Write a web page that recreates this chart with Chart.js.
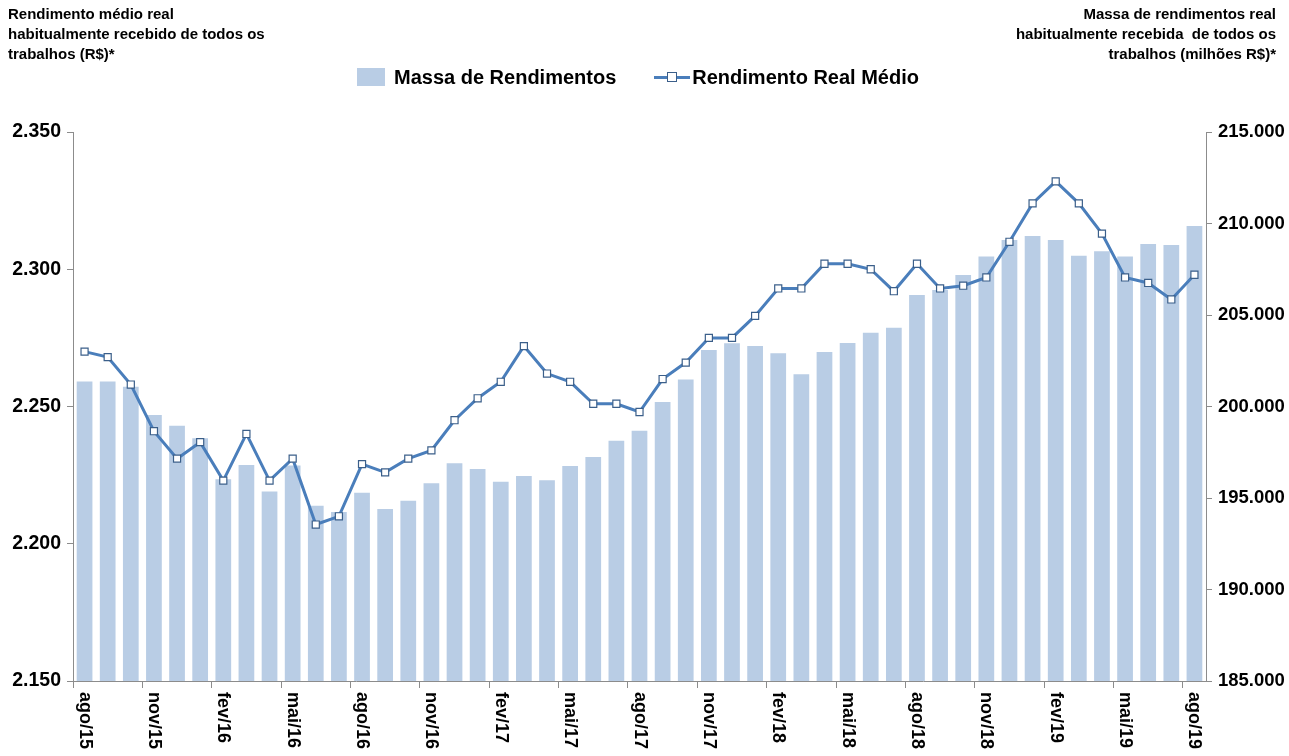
<!DOCTYPE html>
<html>
<head>
<meta charset="utf-8">
<script src="https://cdn.jsdelivr.net/npm/chart.js@4"></script>
<style>
  body { margin: 0; background: #fff; }
  #wrap { position: relative; width: 1289px; height: 756px; font-family: "Liberation Sans", Arial, sans-serif; }
  .title { position: absolute; top: 4px; font-weight: bold; font-size: 15px; line-height: 20px; color: #000; }
  #legend { position: absolute; top: 64px; left: 357px; height: 26px; display: flex; align-items: center; font-weight: bold; font-size: 20px; }
  .box { width: 28px; height: 18px; background: #B9CDE5; margin-right: 9px; }
  .lineKey { position: relative; width: 36px; height: 18px; margin-left: 38px; margin-right: 2px; }
  .lineKey .ln { position: absolute; left: 0; right: 0; top: 8px; height: 3px; background: #4A7EBB; }
  .lineKey .mk { position: absolute; left: 13px; top: 4px; width: 8px; height: 8px; background: #fff; border: 1px solid #3B5F8A; }
</style>
</head>
<body>
<div id="wrap">
  <canvas id="chart" width="1289" height="756"></canvas>
  <div class="title" style="left:8px;">Rendimento médio real<br>habitualmente recebido de todos os<br>trabalhos (R$)*</div>
  <div class="title" style="right:13px; text-align:right;">Massa de rendimentos real<br>habitualmente recebida &nbsp;de todos os<br>trabalhos (milhões R$)*</div>
  <div id="legend">
    <div class="box"></div><span>Massa de Rendimentos</span>
    <div class="lineKey"><div class="ln"></div><div class="mk"></div></div><span>Rendimento Real Médio</span>
  </div>
</div>
<script>
const months = [
  "ago/15", "set/15", "out/15", "nov/15", "dez/15", "jan/16", "fev/16", "mar/16", "abr/16", "mai/16",
  "jun/16", "jul/16", "ago/16", "set/16", "out/16", "nov/16", "dez/16", "jan/17", "fev/17", "mar/17",
  "abr/17", "mai/17", "jun/17", "jul/17", "ago/17", "set/17", "out/17", "nov/17", "dez/17", "jan/18",
  "fev/18", "mar/18", "abr/18", "mai/18", "jun/18", "jul/18", "ago/18", "set/18", "out/18", "nov/18",
  "dez/18", "jan/19", "fev/19", "mar/19", "abr/19", "mai/19", "jun/19", "jul/19", "ago/19"
];

// massa de rendimentos (milhões R$) - eixo direito
const massa = [
  201360, 201360, 201080, 199540, 198950, 198260, 196020, 196800, 195350, 196770,
  194580, 194240, 195290, 194400, 194850, 195800, 196900, 196590, 195890, 196200,
  195970, 196750, 197240, 198130, 198680, 200250, 201470, 203090, 203460, 203310,
  202910, 201760, 202980, 203470, 204030, 204310, 206090, 206370, 207190, 208190,
  209100, 209320, 209100, 208240, 208480, 208190, 208880, 208830, 209860
];

// rendimento real médio (R$) - eixo esquerdo
const rendimento = [
  2270, 2268, 2258, 2241, 2231, 2237, 2223, 2240, 2223, 2231,
  2207, 2210, 2229, 2226, 2231, 2234, 2245, 2253, 2259, 2272,
  2262, 2259, 2251, 2251, 2248, 2260, 2266, 2275, 2275, 2283,
  2293, 2293, 2302, 2302, 2300, 2292, 2302, 2293, 2294, 2297,
  2310, 2324, 2332, 2324, 2313, 2297, 2295, 2289, 2298
];

const leftTicks = [2150, 2200, 2250, 2300, 2350];
const rightTicks = [185000, 190000, 195000, 200000, 205000, 210000, 215000];

function fmt(v) {
  return String(v).replace(/\B(?=(\d{3})+(?!\d))/g, ".");
}

const axisColor = "#8C8C8C";

// x labels read top-to-bottom, every 3rd month
const xLabels = {
  id: "xLabels",
  afterDraw(chart) {
    const ctx = chart.ctx;
    const xs = chart.scales.x;
    const bottom = chart.chartArea.bottom;
    ctx.save();
    ctx.font = "bold 18px Liberation Sans";
    ctx.fillStyle = "#000";
    ctx.textAlign = "left";
    ctx.textBaseline = "middle";
    months.forEach((m, i) => {
      if (i % 3 !== 0) return;
      ctx.save();
      ctx.translate(xs.getPixelForValue(i), bottom + 11);
      ctx.rotate(Math.PI / 2);
      ctx.fillText(m, 0, 0);
      ctx.restore();
    });
    ctx.restore();
  }
};

new Chart(document.getElementById("chart"), {
  data: {
    labels: months,
    datasets: [
      {
        type: "line",
        label: "Rendimento Real Médio",
        data: rendimento,
        yAxisID: "y",
        order: 0,
        borderColor: "#4A7EBB",
        borderWidth: 3,
        tension: 0,
        pointStyle: "rect",
        pointRadius: 5,
        pointBackgroundColor: "#fff",
        pointBorderColor: "#3B5F8A",
        pointBorderWidth: 1.2
      },
      {
        type: "bar",
        label: "Massa de Rendimentos",
        data: massa,
        yAxisID: "y1",
        order: 1,
        backgroundColor: "#B9CDE5",
        categoryPercentage: 1,
        barPercentage: 0.68
      }
    ]
  },
  options: {
    responsive: false,
    animation: false,
    layout: { padding: { top: 132, left: 0, right: 0, bottom: 0 } },
    plugins: { legend: { display: false }, tooltip: { enabled: false } },
    scales: {
      x: {
        offset: true,
        grid: {
          offset: true,
          drawOnChartArea: false,
          tickLength: 7,
          color: c => (c.index % 3 === 0 ? axisColor : "transparent")
        },
        border: { display: true, color: axisColor, width: 1 },
        ticks: { display: false, autoSkip: false },
        afterFit: s => { s.height = 75; }
      },
      y: {
        position: "left",
        min: 2150,
        max: 2350,
        afterBuildTicks: s => { s.ticks = leftTicks.map(v => ({ value: v })); },
        grid: { drawOnChartArea: false, tickLength: 6, color: axisColor },
        border: { display: true, color: axisColor, width: 1 },
        ticks: { color: "#000", font: { family: "Liberation Sans", weight: "bold", size: 19.5 }, padding: 6, callback: v => fmt(v) },
        afterFit: s => { s.width = 73; }
      },
      y1: {
        position: "right",
        min: 185000,
        max: 215000,
        afterBuildTicks: s => { s.ticks = rightTicks.map(v => ({ value: v })); },
        grid: { drawOnChartArea: false, tickLength: 6, color: axisColor },
        border: { display: true, color: axisColor, width: 1 },
        ticks: { color: "#000", font: { family: "Liberation Sans", weight: "bold", size: 18.5 }, padding: 6, callback: v => fmt(v) },
        afterFit: s => { s.width = 83; }
      }
    }
  },
  plugins: [xLabels]
});
</script>
</body>
</html>
